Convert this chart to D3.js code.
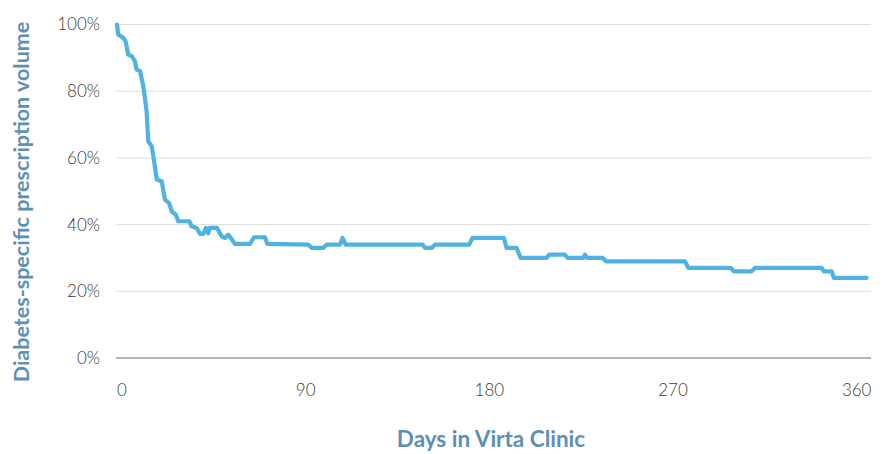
<!DOCTYPE html>
<html><head><meta charset="utf-8">
<script src="https://cdn.jsdelivr.net/npm/d3@7"></script>
<style>body{margin:0;background:#fff}svg{display:block}</style>
</head><body><svg id="c" width="885" height="454"></svg>
<script>
const days = [0,0.6,3,4.2,5.5,7.2,8.8,9.6,11.3,12.9,14.5,15.3,17,17.8,19.5,21.9,23.5,25.5,26.8,28.8,30,35.5,36.6,39,40.7,42.3,43.6,44.7,45.5,49,51.3,52.9,54.5,56.2,57.8,65.2,67.1,72.5,73.6,93.7,95.4,101.1,102.7,109.3,110.5,112,149.8,150.9,154.2,155.8,172.6,174.2,189.6,190.9,195.8,197.8,210.5,211.8,219.5,220.8,228.5,229.3,230.4,238,239.6,278.3,280,300.7,302.3,311,312.6,345.3,346.4,350.2,351.3,367.3];
const volume = [100,97,96,95,91,90.5,89,86.5,86,81.5,74,65,63.5,60.5,53.5,53,47.5,46.5,44,43,41,41,39.5,39,37.2,37.2,39,37.4,39,39,36.5,36,37,35.6,34.2,34.2,36.2,36.2,34.2,34,33,33,34,34,36,34,34,33,33,34,34,36,36,33,33,30,30,31,31,30,30,31,30,30,29,29,27,27,26,26,27,27,26,26,24,24];
const yTicks = [0,20,40,60,80,100];
const xTicks = [0,90,180,270,360];
const xTitle = "Days in Virta Clinic";
const yTitle = "Diabetes-specific prescription volume";

const svg = d3.select("#c");
const x = d3.scaleLinear().domain([0,368]).range([117,868]);
const y = d3.scaleLinear().domain([0,100]).range([358,24.5]);
const titleColor = "#5e8fb4";

// gridlines
svg.append("g").selectAll("line").data(yTicks.filter(d=>d>0)).join("line")
  .attr("x1",116).attr("x2",871).attr("y1",d=>y(d)).attr("y2",d=>y(d))
  .attr("stroke","#dedede").attr("stroke-width",1);
svg.append("line").attr("x1",116).attr("x2",871).attr("y1",y(0)).attr("y2",y(0))
  .attr("stroke","#b4b4b6").attr("stroke-width",2);

// y labels
svg.append("g").selectAll("text").data(yTicks).join("text")
  .attr("x",100).attr("y",d=>y(d)).attr("dy","0.35em").attr("text-anchor","end")
  .attr("font-family","Lato, sans-serif").attr("font-weight",300).attr("font-size",17).attr("fill","#3a3a3a")
  .text(d=>d+"%");
// x labels
svg.append("g").selectAll("text").data(xTicks).join("text")
  .attr("x",d=>x(d)+5).attr("y",390).attr("dy","0.35em").attr("text-anchor","middle")
  .attr("font-family","Lato, sans-serif").attr("font-weight",300).attr("font-size",17).attr("fill","#3a3a3a")
  .text(d=>d);

// titles
svg.append("text").attr("x",491).attr("y",447).attr("text-anchor","middle")
  .attr("font-family","Lato, sans-serif").attr("font-weight","bold").attr("font-size",22.5)
  .attr("fill",titleColor).text(xTitle);
svg.append("text").attr("transform","translate(29,202) rotate(-90)").attr("text-anchor","middle")
  .attr("font-family","Lato, sans-serif").attr("font-weight","bold").attr("font-size",21.5)
  .attr("fill",titleColor).text(yTitle);

// line
const pts = days.map((d,i)=>[d,volume[i]]);
svg.append("path").datum(pts)
  .attr("d",d3.line().x(d=>x(d[0])).y(d=>y(d[1])))
  .attr("fill","none").attr("stroke","#4fb2e3").attr("stroke-width",4.2)
  .attr("stroke-linejoin","round").attr("stroke-linecap","round");
</script></body></html>
